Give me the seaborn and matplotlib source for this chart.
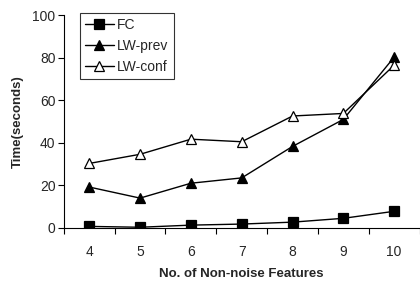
import seaborn as sns
import matplotlib.pyplot as plt
import pandas as pd
from matplotlib.ticker import FixedLocator

# values
features = [4, 5, 6, 7, 8, 9, 10]
fc = [0.7, 0.3, 1.3, 1.8, 2.7, 4.5, 7.8]
lw_prev = [19.2, 14.0, 21.0, 23.5, 38.3, 51.0, 80.3]
lw_conf = [30.3, 34.6, 41.7, 40.5, 52.6, 53.8, 76.5]

df = pd.DataFrame({
    'features': features * 3,
    'time': fc + lw_prev + lw_conf,
    'method': ['FC'] * 7 + ['LW-prev'] * 7 + ['LW-conf'] * 7,
})

sns.set_style('white')
plt.rcParams['font.family'] = ['Liberation Sans', 'DejaVu Sans']

fig = plt.figure(figsize=(4.2, 2.81), dpi=100)
ax = fig.add_axes([0.152, 0.189, 0.847, 0.757])

styles = {
    'FC': dict(marker='s', mfc='black', markersize=6.5),
    'LW-prev': dict(marker='^', mfc='black', markersize=6.5),
    'LW-conf': dict(marker='^', mfc='white', markersize=6.5),
}
for name in ['FC', 'LW-prev', 'LW-conf']:
    sub = df[df['method'] == name]
    sns.lineplot(data=sub, x='features', y='time', ax=ax, color='black',
                 linewidth=1, mec='black', mew=0.9,
                 label=name, **styles[name])

ax.set_xlim(3.5, 10.5)
ax.set_ylim(0, 100)
ax.set_yticks([0, 20, 40, 60, 80, 100])
ax.set_xticks(features)
ax.xaxis.set_minor_locator(FixedLocator([3.5 + i for i in range(8)]))
ax.tick_params(axis='x', which='major', length=0, pad=12, labelsize=10)
ax.tick_params(axis='x', which='minor', length=4, width=0.8, direction='out',
               color='black', bottom=True)
ax.tick_params(axis='y', length=4, width=0.8, direction='out', color='black',
               left=True, labelsize=10, pad=2)

for s in ['top', 'right']:
    ax.spines[s].set_visible(False)
for s in ['left', 'bottom']:
    ax.spines[s].set_color('black')
    ax.spines[s].set_linewidth(0.8)

ax.set_xlabel('No. of Non-noise Features', fontsize=9.5, fontweight='bold', labelpad=7)
ax.set_ylabel('Time(seconds)', fontsize=9.5, fontweight='bold', labelpad=6)

leg = ax.legend(loc='upper left', bbox_to_anchor=(0.045, 1.01), frameon=True,
                fancybox=False, edgecolor='black', fontsize=10,
                handlelength=2.1, borderpad=0.35, labelspacing=0.5,
                handletextpad=0.25, borderaxespad=0)
leg.get_frame().set_linewidth(0.8)

fig.savefig('out.png', dpi=100)
